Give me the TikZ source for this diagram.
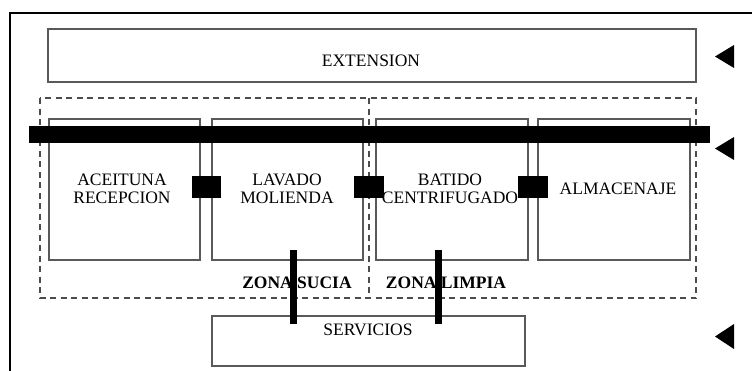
\documentclass[tikz,border=0pt]{standalone}
\usepackage{fontspec}
\setmainfont{Liberation Serif}
\begin{document}
\begin{tikzpicture}[x=1pt,y=-1pt,
  room/.style={draw=black!65,line width=1.2pt,inner sep=0pt},
  zone/.style={draw=black!70,line width=1.1pt,dash pattern=on 6pt off 4.5pt},
  lbl/.style={font=\fontsize{17.5}{18.5}\selectfont,align=center,anchor=base,inner sep=0pt},
  zlbl/.style={font=\fontsize{17.5}{18.5}\selectfont\bfseries,anchor=base,inner sep=0pt},
  blk/.style={fill=black,draw=none},
  tri/.style={fill=black,draw=none}]
\useasboundingbox (0,0) rectangle (752,370);
% outer frame
\draw[line width=2pt] (752,13) -- (10,13) -- (10,371);
% zones
\draw[zone] (40,98) rectangle (696,298);
\draw[zone] (369,98) -- (369,298);
% extension
\draw[room] (48,29) rectangle (696,82);
\node[lbl] (ext) at (371,66) {EXTENSION};
% rooms
\draw[room] (49,119) rectangle (200,260);
\draw[room] (212,119) rectangle (363,260);
\draw[room] (376,119) rectangle (528,260);
\draw[room] (538,119) rectangle (690,260);
\node[lbl] (ace) at (122,203.5) {ACEITUNA\\RECEPCION};
\node[lbl] (lav) at (287,203.5) {LAVADO\\MOLIENDA};
\node[lbl] (bat) at (450,203.5) {BATIDO\\CENTRIFUGADO};
\node[lbl] (alm) at (618,194) {ALMACENAJE};
% servicios
\draw[room] (212,316) rectangle (525,366);
\node[lbl] (ser) at (368,335.5) {SERVICIOS};
% zone labels
\node[zlbl] (zs) at (297,288) {ZONA SUCIA};
\node[zlbl] (zl) at (446,288) {ZONA LIMPIA};
% main bar
\fill[blk] (29,126) rectangle (710,143);
% connectors between rooms
\fill[blk] (192,176) rectangle (221,198);
\fill[blk] (354,176) rectangle (384,198);
\fill[blk] (518,176) rectangle (548,198);
% vertical bars to servicios
\fill[blk] (290,250) rectangle (297,324);
\fill[blk] (435,250) rectangle (442,324);
% arrows
\fill[tri] (734,45) -- (734,68) -- (715,56.5) -- cycle;
\fill[tri] (734,137) -- (734,160) -- (715,148.5) -- cycle;
\fill[tri] (734,324) -- (734,349) -- (715,336.5) -- cycle;
\end{tikzpicture}
\end{document}
